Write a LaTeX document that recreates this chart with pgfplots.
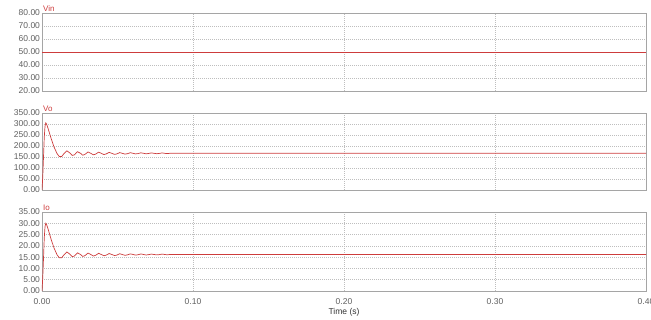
\documentclass[border=0pt]{standalone}
\usepackage{pgfplots}
\pgfplotsset{compat=1.18}
\usepackage{fontspec}
\setmainfont{Liberation Sans}
\definecolor{simred}{RGB}{205,60,60}
\definecolor{labgray}{RGB}{95,95,95}
\definecolor{framegray}{RGB}{165,165,165}
\definecolor{gridgray}{RGB}{190,190,190}
\tikzset{ttl/.style={anchor=south west, text=simred, font=\fontsize{8}{9}\selectfont, inner sep=1pt}}
\pgfplotsset{
  simaxis/.style={
    scale only axis, width=604pt,
    xmin=0, xmax=0.4,
    xtick={0,0.1,0.2,0.3,0.4},
    grid=major,
    grid style={dash pattern=on 1pt off 1pt, gridgray, line width=0.5pt},
    axis line style={framegray, line width=0.6pt},
    major tick length=0pt,
    tick label style={font=\fontsize{8.5}{9}\selectfont, text=labgray},
    /pgf/number format/assume math mode=true,
    yticklabel style={/pgf/number format/fixed, /pgf/number format/fixed zerofill, /pgf/number format/precision=2, xshift=1.5pt},
    xticklabel style={/pgf/number format/fixed, /pgf/number format/fixed zerofill, /pgf/number format/precision=2},
    clip mode=individual,
  },
}
\begin{document}
\begin{tikzpicture}
\useasboundingbox (-42pt,13pt) rectangle (609pt,-307pt);
% Vin
\begin{axis}[simaxis, at={(0pt,0pt)}, anchor=north west, height=78pt,
  ymin=20, ymax=80, ytick={20,30,40,50,60,70,80}, xticklabels={}]
\addplot[simred, line width=0.7pt] coordinates {(0,50) (0.4,50)};
\node[ttl] at (rel axis cs:0,1) {Vin};
\end{axis}
% Vo
\begin{axis}[simaxis, at={(0pt,-100pt)}, anchor=north west, height=77pt,
  ymin=0, ymax=350, ytick={0,50,100,150,200,250,300,350}, xticklabels={}]
\addplot[simred, line width=0.7pt] coordinates {
(0,0) (0.0005,60) (0.001,150) (0.0015,240) (0.002,290) (0.0025,305) (0.003,300) (0.004,280)
(0.006,235) (0.008,195) (0.010,165) (0.0115,152) (0.013,152) (0.0145,165) (0.0165,178) (0.0185,168)
(0.0200,157) (0.0215,160) (0.0235,174) (0.0255,167) (0.027,158) (0.0285,162) (0.0305,173) (0.0325,166)
(0.034,160) (0.0355,163) (0.0375,172) (0.0395,166) (0.041,161) (0.0425,164) (0.0445,171) (0.0465,166)
(0.048,162) (0.0495,164) (0.0515,170) (0.0535,166) (0.055,163) (0.0565,165) (0.0585,169.5) (0.0605,166.5)
(0.062,164) (0.0635,165.5) (0.0655,169) (0.0675,166.5) (0.069,164.5) (0.0705,166) (0.0725,168.5) (0.0745,166.5)
(0.076,165) (0.0775,166) (0.0795,168.5) (0.0815,166.5) (0.083,165.5) (0.085,167) (0.4,167)};
\node[ttl] at (rel axis cs:0,1) {Vo};
\end{axis}
% Io
\begin{axis}[simaxis, at={(0pt,-199pt)}, anchor=north west, height=79pt,
  ymin=0, ymax=35, ytick={0,5,10,15,20,25,30,35}, xlabel={Time (s)},
  xlabel style={font=\fontsize{8.5}{9}\selectfont, text=black!80, yshift=3pt},
  xticklabel style={yshift=-4pt}]
\addplot[simred, line width=0.7pt] coordinates {
(0,0) (0.0005,6) (0.001,14.5) (0.0015,23.5) (0.002,28.5) (0.0025,30) (0.003,29.5) (0.004,27.5)
(0.006,23) (0.008,19) (0.010,16) (0.0115,14.7) (0.013,14.7) (0.0145,16) (0.0165,17.3) (0.0185,16.3)
(0.0200,15.2) (0.0215,15.5) (0.0235,16.9) (0.0255,16.2) (0.027,15.3) (0.0285,15.7) (0.0305,16.8) (0.0325,16.1)
(0.034,15.5) (0.0355,15.8) (0.0375,16.7) (0.0395,16.1) (0.041,15.6) (0.0425,15.9) (0.0445,16.6) (0.0465,16.1)
(0.048,15.7) (0.0495,15.9) (0.0515,16.5) (0.0535,16.1) (0.055,15.8) (0.0565,16.0) (0.0585,16.45) (0.0605,16.15)
(0.062,15.9) (0.0635,16.05) (0.0655,16.4) (0.0675,16.15) (0.069,15.95) (0.0705,16.1) (0.0725,16.35) (0.0745,16.15)
(0.076,16.0) (0.0775,16.1) (0.0795,16.35) (0.0815,16.15) (0.083,16.05) (0.085,16.2) (0.4,16.2)};
\node[ttl] at (rel axis cs:0,1) {Io};
\end{axis}
\end{tikzpicture}
\end{document}
